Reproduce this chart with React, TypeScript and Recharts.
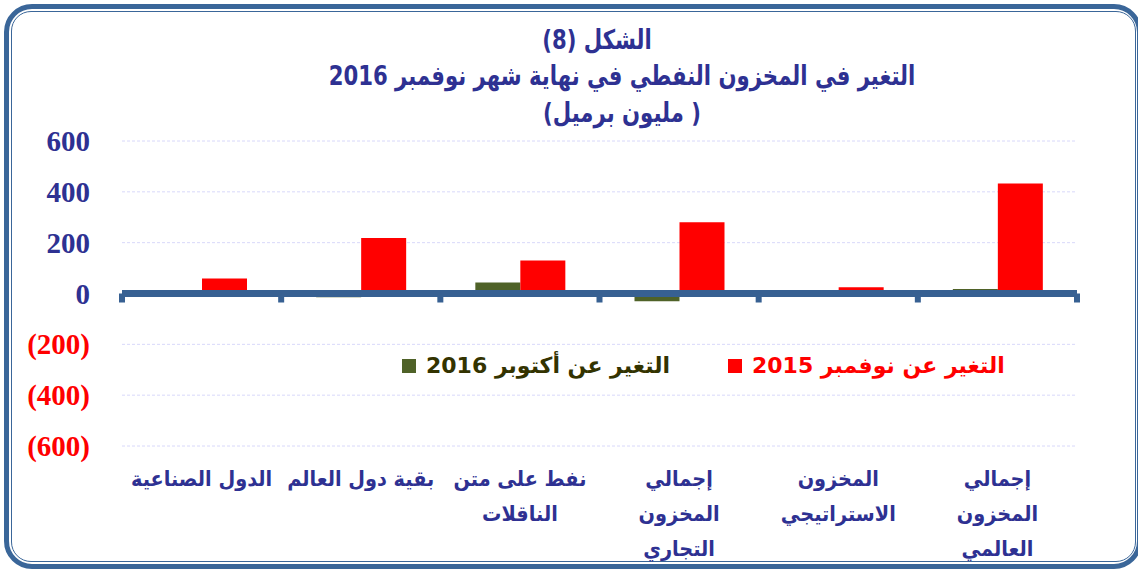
import { BarChart, Bar, XAxis, YAxis, CartesianGrid, ReferenceLine } from 'recharts';

// categories, right to left as in the source (x-axis reversed)
const categories = [
  'إجمالي\nالمخزون\nالعالمي',
  'المخزون\nالاستراتيجي',
  'إجمالي\nالمخزون\nالتجاري',
  'نفط على متن\nالناقلات',
  'بقية دول العالم',
  'الدول الصناعية',
];
const changeVsOct2016 = [18, 0, -30, 43, -15, 1];
const changeVsNov2015 = [433, 25, 280, 130, 218, 59];

const yTicks = [-600, -400, -200, 0, 200, 400, 600];
const yTickLabels = ['(600)', '(400)', '(200)', '0', '200', '400', '600'];

const titleLines = ['الشكل (8)', 'التغير في المخزون النفطي في نهاية شهر نوفمبر 2016', '( مليون برميل)'];
const seriesNames = ['التغير عن أكتوبر 2016', 'التغير عن نوفمبر 2015'];
const seriesColors = ['#4F6228', '#FF0000'];

const data = categories.map((name, i) => ({
  name,
  oct: changeVsOct2016[i],
  nov: changeVsNov2015[i],
}));

const NAVY = '#2E3192';
const FRAME = '#3A6699';
const ARABIC = "'DejaVu Sans', 'Liberation Sans', sans-serif";

function YTick({ x, y, payload }: any) {
  const idx = yTicks.indexOf(payload.value);
  const neg = payload.value < 0;
  return (
    <text x={x} y={y + 10} textAnchor="end" fontFamily="'Liberation Serif', serif" fontWeight="bold" fontSize={29} fill={neg ? '#FF0000' : NAVY}>
      {yTickLabels[idx]}
    </text>
  );
}

function XTick({ x, y, payload }: any) {
  const lines = String(payload.value).split('\n');
  return (
    <text
      x={x} y={y} textAnchor="middle" fontFamily={ARABIC} fontWeight="bold" fontSize={21} fill={NAVY}
      transform={`translate(${x} 0) scale(0.92 1) translate(${-x} 0)`}
    >
      {lines.map((l, i) => (
        <tspan key={i} x={x} dy={i === 0 ? 0 : 35}>{l}</tspan>
      ))}
    </text>
  );
}

// zero line with the small tick marks at category boundaries
function ZeroLine(props: any) {
  const { x1, x2, y1 } = props;
  const n = categories.length;
  const step = (x2 - x1) / n;
  return (
    <g>
      {Array.from({ length: n + 1 }, (_, i) => (
        <rect key={i} x={x1 + i * step - 3} y={y1} width={6} height={9} fill="#376092" />
      ))}
      <line x1={x1} x2={x2} y1={y1} y2={y1} stroke="#376092" strokeWidth={7} />
    </g>
  );
}

const titleLine = (text: string, center: number, top: number) => (
  <div
    dir="rtl"
    style={{
      position: 'absolute', top, left: center - 500, width: 1000, textAlign: 'center',
      fontFamily: ARABIC, fontWeight: 'bold', color: NAVY, fontSize: 27, lineHeight: '34px',
      transform: 'scaleX(0.785)', whiteSpace: 'nowrap',
    }}
  >
    {text}
  </div>
);

export default function App() {
  return (
    <div style={{ position: 'absolute', left: 0, top: 0, width: 1138, height: 571, overflow: 'hidden', background: '#fff' }}>
      <div style={{ position: 'absolute', left: 4, top: 4, width: 1138, height: 565, boxSizing: 'border-box', border: `5px solid ${FRAME}`, borderRadius: 28 }} />
      <div style={{ position: 'absolute', left: 11, top: 11, width: 1125, height: 551, boxSizing: 'border-box', border: `1.5px solid ${FRAME}`, borderRadius: 20 }} />

      {titleLine(titleLines[0], 597, 23)}
      {titleLine(titleLines[1], 622, 59)}
      {titleLine(titleLines[2], 622, 96)}

      <BarChart
        width={1138}
        height={571}
        data={data}
        margin={{ top: 141, right: 61, bottom: 15, left: 0 }}
        barGap={0}
        barCategoryGap="22%"
        style={{ position: 'absolute', left: 0, top: 0 }}
      >
        <CartesianGrid vertical={false} stroke="#D8D8FA" strokeDasharray="3 2" />
        <XAxis dataKey="name" reversed axisLine={false} tickLine={false} interval={0} height={110} tick={<XTick />} tickMargin={34} />
        <YAxis domain={[-600, 600]} ticks={yTicks} width={122} axisLine={false} tickLine={false} tickMargin={26} tick={<YTick />} />
        <Bar dataKey="oct" name={seriesNames[0]} fill={seriesColors[0]} barSize={45} isAnimationActive={false} />
        <Bar dataKey="nov" name={seriesNames[1]} fill={seriesColors[1]} barSize={45} isAnimationActive={false} />
        <ReferenceLine y={0} shape={<ZeroLine />} />
      </BarChart>

      {/* legend sits inside the plot, between the (200) and (400) grid lines */}
      <div style={{ position: 'absolute', top: 353, left: 402, display: 'flex', direction: 'ltr', alignItems: 'center', fontFamily: ARABIC, fontWeight: 'bold', fontSize: 22 }}>
        {seriesNames.map((name, i) => (
          <div key={i} style={{ display: 'flex', alignItems: 'center', marginRight: i === 0 ? 58 : 0 }}>
            <span style={{ width: 14, height: 14, background: seriesColors[i], display: 'inline-block', marginRight: 10 }} />
            <span dir="rtl" style={{ color: i === 0 ? '#333300' : '#FF0000' }}>{name}</span>
          </div>
        ))}
      </div>
    </div>
  );
}
